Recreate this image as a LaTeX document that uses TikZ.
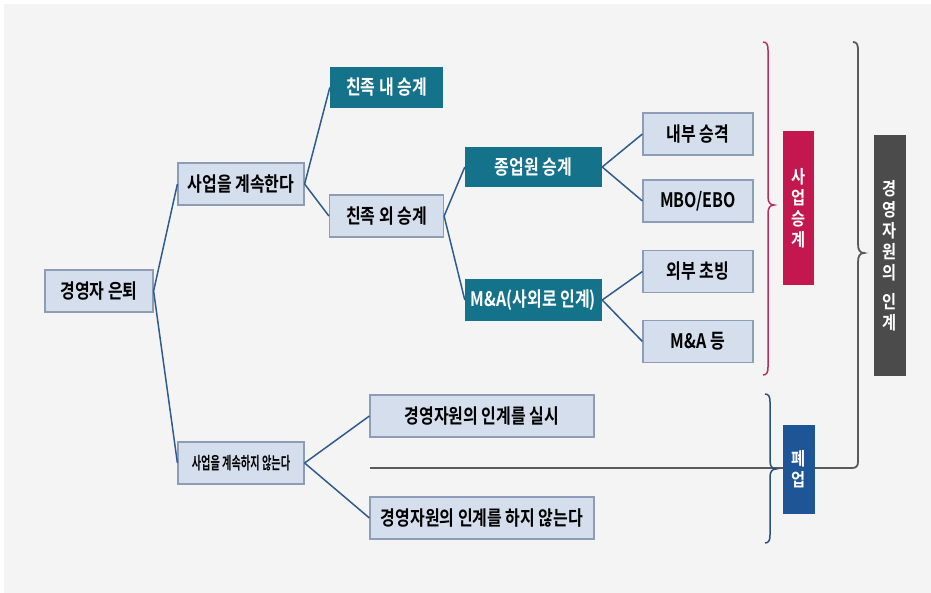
\documentclass[tikz,border=0pt]{standalone}
\usepackage{fontspec}
\newfontfamily\krb{Noto Sans CJK KR Bold}[FakeStretch=0.8]
\newfontfamily\krc{Noto Sans CJK KR Bold}[FakeStretch=0.6]
\newfontfamily\krv{Noto Sans CJK KR Bold}[FakeStretch=0.85]
\definecolor{bgc}{HTML}{F4F4F5}
\definecolor{lfill}{HTML}{D5DEEC}
\definecolor{lbord}{HTML}{8D9DB8}
\definecolor{tealc}{HTML}{14728A}
\definecolor{connc}{HTML}{2E5C8C}
\definecolor{crim}{HTML}{C2174F}
\definecolor{crimbr}{HTML}{B5305A}
\definecolor{dgray}{HTML}{4B4B4B}
\definecolor{bluec}{HTML}{1E5596}
\definecolor{bluebr}{HTML}{2B4F7C}
\definecolor{grayln}{HTML}{5A5A5A}
\begin{document}
\begin{tikzpicture}[x=1pt,y=-1pt,
  lbox/.style={draw=lbord, fill=lfill, line width=1.2pt, minimum height=42pt, inner sep=0pt,
    font=\krb\fontsize{20}{22}\selectfont, text=black},
  tbox/.style={fill=tealc, minimum height=41pt, inner sep=0pt,
    font=\krb\fontsize{20}{22}\selectfont, text=white},
  vbox/.style={inner sep=0pt, align=center, text=white,
    font=\krv\fontsize{18}{21}\selectfont},
  conn/.style={draw=connc, line width=1.5pt}]
\useasboundingbox (0,0) rectangle (931,593);
\fill[white] (0,0) rectangle (931,593);
\fill[bgc] (4,4) rectangle (931,593);

% nodes
\node[lbox, minimum width=108pt] (ret) at (99,291) {경영자 은퇴};
\node[lbox, minimum width=126pt] (cont) at (241,184) {사업을 계속한다};
\node[lbox, minimum width=126pt, font=\krc\fontsize{17}{19}\selectfont] (stop) at (241,463) {사업을 계속하지 않는다};
\node[tbox, minimum width=113pt] (kin) at (386.5,87.5) {친족 내 승계};
\node[lbox, minimum width=114pt] (nonkin) at (386.5,216) {친족 외 승계};
\node[tbox, minimum width=137pt, minimum height=40pt] (emp) at (533.5,167) {종업원 승계};
\node[tbox, minimum width=137pt, minimum height=42pt] (ma) at (533.5,300) {M\&A(사외로 인계)};
\node[lbox, minimum width=110pt] (intp) at (698,134) {내부 승격};
\node[lbox, minimum width=110pt] (mbo) at (698,201) {MBO/EBO};
\node[lbox, minimum width=110pt] (ext) at (698,271.5) {외부 초빙};
\node[lbox, minimum width=110pt] (mad) at (698,341.5) {M\&A 등};
\node[lbox, minimum width=224pt] (hand) at (482,416) {경영자원의 인계를 실시};
\node[lbox, minimum width=224pt] (nohand) at (482,518) {경영자원의 인계를 하지 않는다};

% connectors
\draw[conn] (ret.east) -- (cont.west);
\draw[conn] (ret.east) -- (stop.west);
\draw[conn] (cont.east) -- (kin.west);
\draw[conn] (cont.east) -- (nonkin.west);
\draw[conn] (nonkin.east) -- (emp.west);
\draw[conn] (nonkin.east) -- (ma.west);
\draw[conn] (emp.east) -- (intp.west);
\draw[conn] (emp.east) -- (mbo.west);
\draw[conn] (ma.east) -- (ext.west);
\draw[conn] (ma.east) -- (mad.west);
\draw[conn] (stop.east) -- (hand.west);
\draw[conn] (stop.east) -- (nohand.west);

% gray line with brace
\coordinate (gl) at (370,468);
\draw[grayln, line width=1.8pt] (gl) -- (852,468) .. controls (856,468) and (858,466) .. (858,462)
  -- (858,262) .. controls (858,256) and (860,253) .. (864,253)
  .. controls (860,253) and (858,250) .. (858,244)
  -- (858,50) .. controls (858,45) and (857,42) .. (853,42);

% red brace
\draw[crimbr, line width=1.5pt] (763,42) .. controls (767,42) and (768,45) .. (768,50)
  -- (768,197) .. controls (768,202) and (770,205) .. (774,205)
  .. controls (770,205) and (768,208) .. (768,213)
  -- (768,367) .. controls (768,372) and (767,375) .. (763,375);

% blue brace
\draw[bluebr, line width=1.5pt] (765,394) .. controls (769,394) and (770,397) .. (770,402)
  -- (770,461) .. controls (770,466) and (772,469) .. (776,469)
  .. controls (772,469) and (770,472) .. (770,477)
  -- (770,535) .. controls (770,540) and (769,543) .. (765,543);

% vertical labels
\node[vbox, fill=crim, minimum width=31pt, minimum height=154pt] (biz) at (798.5,208) {사\\업\\승\\계};
\node[vbox, fill=dgray, minimum width=32pt, minimum height=241pt] (mgmt) at (890,255.5) {경\\영\\자\\원\\의\\[8pt]인\\계};
\node[vbox, fill=bluec, minimum width=32pt, minimum height=89pt] (close) at (799,469.5) {폐\\업};
\end{tikzpicture}
\end{document}
